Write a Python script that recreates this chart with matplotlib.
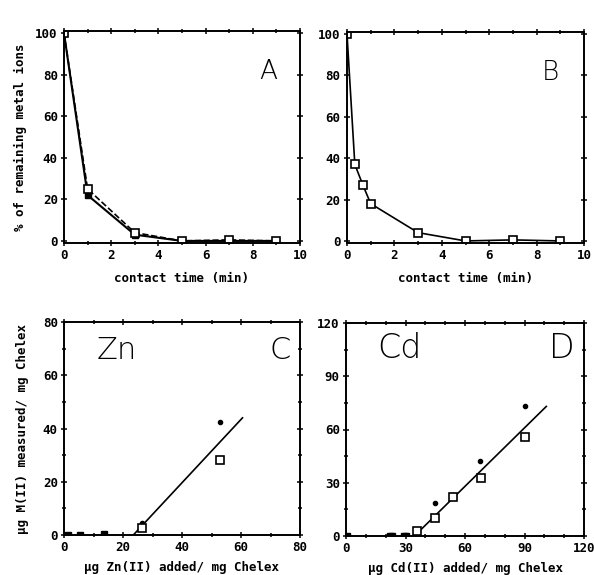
import matplotlib
matplotlib.use("Agg")
import matplotlib.pyplot as plt
from matplotlib.ticker import MultipleLocator

# panel A: two metals, contact time vs % remaining
a_t = [0, 1, 3, 5, 7, 9]
a_filled = [100, 22, 3, 0, 0, 0]
a_open = [100, 25, 4, 0, 0.5, 0]

# panel B
b_t = [0, 0.33, 0.67, 1, 3, 5, 7, 9]
b_open = [100, 37, 27, 18, 4, 0, 0.5, 0]

# panel C (Zn)
c_sq_x = [1.4, 5.5, 13.5]
c_sq_y = [0, 0, 0.5]
c_dot_x = [26.5, 53]
c_dot_y = [4.5, 42.5]
c_open_x = [26.5, 53]
c_open_y = [2.5, 28]
c_fit_x = [23.5, 60.5]
c_fit_y = [0, 44]

# panel D (Cd)
d_sq_x = [0.5, 22, 23, 29, 30, 54]
d_sq_y = [0, 0, 0, 0, 0, 22.5]
d_dot_x = [36, 45, 54, 67.5, 90.5]
d_dot_y = [3, 18.5, 22.5, 42, 73]
d_open_x = [36, 45, 54, 68, 90]
d_open_y = [3, 10, 22, 32.5, 56]
d_fit_x = [34.5, 101]
d_fit_y = [0, 73]

W, H = 594, 575
fig = plt.figure(figsize=(W / 100, H / 100), dpi=100)

mono = {"family": "DejaVu Sans Mono", "weight": "bold", "size": 9}
big_font = ["Liberation Sans Narrow", "DejaVu Sans"]


def make_ax(x0, y0, x1, y1):
    ax = fig.add_axes([x0 / W, 1 - y1 / H, (x1 - x0) / W, (y1 - y0) / H])
    for s in ax.spines.values():
        s.set_linewidth(1.4)
    ax.tick_params(which="both", direction="inout", top=True, right=True,
                   width=1.1, labelsize=9, pad=2)
    ax.tick_params(which="major", length=5)
    ax.tick_params(which="minor", length=3)
    return ax


def fix_labels(ax):
    for lab in ax.get_xticklabels() + ax.get_yticklabels():
        lab.set_fontfamily("DejaVu Sans Mono")
        lab.set_fontweight("bold")


def letter(ax, x, y, s, size):
    ax.text(x, y, s, transform=ax.transAxes, ha="center", va="center",
            family=big_font, weight="light", size=size)


# A
ax = make_ax(64, 31, 300, 243)
ax.plot(a_t, a_filled, "k-", lw=1.5, marker="s", ms=4, mfc="k")
ax.plot(a_t, a_open, "k--", lw=1.2, marker="s", ms=6, mfc="white", mew=1.2)
ax.set_xlim(0, 10)
ax.set_ylim(-1, 101)
ax.xaxis.set_major_locator(MultipleLocator(2))
ax.xaxis.set_minor_locator(MultipleLocator(1))
ax.yaxis.set_major_locator(MultipleLocator(20))
ax.set_xlabel("contact time (min)", fontdict=mono, labelpad=7)
ax.set_ylabel("% of remaining metal ions", fontdict=mono, labelpad=6)
letter(ax, 0.864, 0.81, "A", 19)
fix_labels(ax)

# B
ax = make_ax(347, 32, 584, 243)
ax.plot(b_t, b_open, "k-", lw=1.2, marker="s", ms=6, mfc="white", mew=1.2)
ax.set_xlim(0, 10)
ax.set_ylim(-1, 101)
ax.xaxis.set_major_locator(MultipleLocator(2))
ax.xaxis.set_minor_locator(MultipleLocator(1))
ax.yaxis.set_major_locator(MultipleLocator(20))
ax.set_xlabel("contact time (min)", fontdict=mono, labelpad=7)
letter(ax, 0.857, 0.81, "B", 19)
fix_labels(ax)

# C
ax = make_ax(64, 322, 300, 535)
ax.plot(c_fit_x, c_fit_y, "k-", lw=1.2)
ax.plot(c_sq_x, c_sq_y, "ks", ms=5, ls="none")
ax.plot(c_dot_x, c_dot_y, "ko", ms=3, ls="none")
ax.plot(c_open_x, c_open_y, "ks", ms=5.5, mfc="white", mew=1.2, ls="none")
ax.set_xlim(0, 80)
ax.set_ylim(0, 80)
ax.xaxis.set_major_locator(MultipleLocator(20))
ax.xaxis.set_minor_locator(MultipleLocator(10))
ax.yaxis.set_major_locator(MultipleLocator(20))
ax.yaxis.set_minor_locator(MultipleLocator(10))
ax.set_xlabel("µg Zn(II) added/ mg Chelex", fontdict=mono, labelpad=5)
ax.set_ylabel("µg M(II) measured/ mg Chelex", fontdict=mono, labelpad=10)
letter(ax, 0.225, 0.864, "Zn", 22)
letter(ax, 0.915, 0.864, "C", 22)
fix_labels(ax)

# D
ax = make_ax(346, 323, 584, 536)
ax.plot(d_fit_x, d_fit_y, "k-", lw=1.2)
ax.plot(d_sq_x, d_sq_y, "ks", ms=5, ls="none")
ax.plot(d_dot_x, d_dot_y, "ko", ms=3, ls="none")
ax.plot(d_open_x, d_open_y, "ks", ms=5.5, mfc="white", mew=1.2, ls="none")
ax.set_xlim(0, 120)
ax.set_ylim(0, 120)
ax.xaxis.set_major_locator(MultipleLocator(30))
ax.xaxis.set_minor_locator(MultipleLocator(10))
ax.yaxis.set_major_locator(MultipleLocator(30))
ax.yaxis.set_minor_locator(MultipleLocator(15))
ax.set_xlabel("µg Cd(II) added/ mg Chelex", fontdict=mono, labelpad=5)
letter(ax, 0.223, 0.878, "Cd", 24)
letter(ax, 0.908, 0.878, "D", 24)
fix_labels(ax)

fig.savefig("out.png", dpi=100)
